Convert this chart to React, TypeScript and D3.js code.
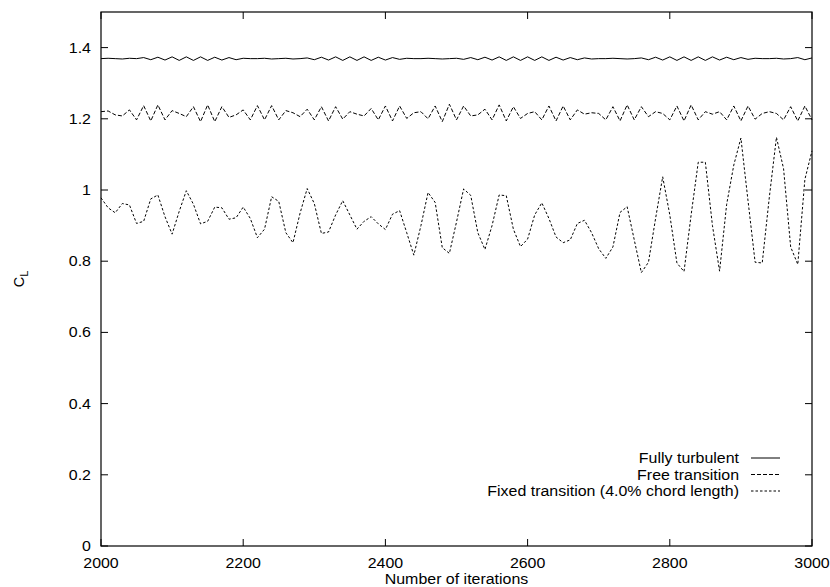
import React from 'react';
import * as d3 from 'd3';

const iterations = d3.range(2000, 3001, 10);

const fullyTurbulent = [
  1.369, 1.370, 1.369, 1.368, 1.370, 1.369,
  1.372, 1.366, 1.373, 1.365, 1.374, 1.364, 1.374, 1.364, 1.374, 1.364, 1.373, 1.365, 1.372, 1.366, 1.370,
  1.369, 1.369, 1.370, 1.368, 1.369, 1.370, 1.368, 1.369,
  1.371, 1.366, 1.373, 1.365, 1.374, 1.364, 1.374, 1.364, 1.374, 1.364, 1.373, 1.365, 1.372, 1.367, 1.370,
  1.369, 1.369, 1.370, 1.369, 1.368, 1.369, 1.370,
  1.367, 1.372, 1.366, 1.373, 1.365, 1.374, 1.364, 1.374, 1.364, 1.374, 1.364, 1.374, 1.364, 1.373, 1.365, 1.372, 1.366, 1.371, 1.368,
  1.369, 1.369, 1.370, 1.369, 1.368, 1.369,
  1.371, 1.366, 1.373, 1.365, 1.374, 1.364, 1.374, 1.364, 1.374, 1.364, 1.374, 1.365, 1.373, 1.366, 1.372, 1.367, 1.370,
  1.369, 1.369, 1.370, 1.368, 1.369,
  1.372, 1.366, 1.371,
];

const freeTransition = [
  1.220, 1.222, 1.211, 1.208, 1.225, 1.197, 1.237, 1.194, 1.239, 1.197,
  1.223, 1.215, 1.206, 1.234, 1.192, 1.239, 1.192, 1.234, 1.204, 1.211,
  1.225, 1.197, 1.237, 1.197, 1.237, 1.197, 1.223, 1.217, 1.206, 1.227,
  1.197, 1.234, 1.194, 1.234, 1.199, 1.220, 1.213, 1.208, 1.229, 1.197,
  1.236, 1.194, 1.236, 1.201, 1.217, 1.220, 1.200, 1.236, 1.192, 1.241,
  1.197, 1.236, 1.208, 1.211, 1.227, 1.197, 1.239, 1.194, 1.234, 1.201,
  1.215, 1.220, 1.197, 1.236, 1.194, 1.236, 1.197, 1.225, 1.213, 1.217,
  1.215, 1.197, 1.234, 1.194, 1.239, 1.197, 1.234, 1.206, 1.220, 1.215,
  1.197, 1.236, 1.194, 1.239, 1.197, 1.220, 1.213, 1.220, 1.197, 1.236,
  1.194, 1.236, 1.199, 1.215, 1.220, 1.215, 1.197, 1.234, 1.194, 1.236,
  1.197,
];

const fixedTransition = [
  0.978, 0.950, 0.936, 0.962, 0.958, 0.906, 0.912, 0.975, 0.986, 0.925,
  0.876, 0.940, 0.998, 0.960, 0.905, 0.912, 0.952, 0.950, 0.918, 0.922,
  0.952, 0.920, 0.866, 0.890, 0.981, 0.968, 0.880, 0.852, 0.935, 1.004,
  0.962, 0.878, 0.882, 0.930, 0.970, 0.930, 0.890, 0.912, 0.925, 0.905,
  0.889, 0.932, 0.942, 0.880, 0.817, 0.900, 0.993, 0.965, 0.838, 0.822,
  0.910, 1.003, 0.985, 0.880, 0.833, 0.900, 0.986, 0.984, 0.890, 0.841,
  0.862, 0.930, 0.964, 0.920, 0.868, 0.852, 0.860, 0.906, 0.915, 0.880,
  0.835, 0.808, 0.840, 0.937, 0.953, 0.860, 0.768, 0.797, 0.920, 1.037,
  0.930, 0.795, 0.771, 0.930, 1.078, 1.078, 0.900, 0.772, 0.960, 1.070,
  1.146, 0.970, 0.797, 0.795, 0.980, 1.148, 1.060, 0.840, 0.791, 1.030,
  1.110,
];

const seriesNames = ['Fully turbulent', 'Free transition', 'Fixed transition (4.0% chord length)'];
const seriesDash = ['none', '4,2', '2.5,2'];
const xTicks = [2000, 2200, 2400, 2600, 2800, 3000];
const yTicks = [0, 0.2, 0.4, 0.6, 0.8, 1, 1.2, 1.4];
const xTitle = 'Number of iterations';

const W = 830;
const H = 587;
const M = { left: 101, right: 812, top: 12, bottom: 546 };
const FONT = "'Liberation Sans', Arial, Helvetica, sans-serif";
const FS = 14.5;
const SX = 1.1;

function Label({ x, y, anchor, children }: { x: number; y: number; anchor: string; children: React.ReactNode }) {
  return (
    <text
      transform={`translate(${x},${y}) scale(${SX},1)`}
      dy="0.35em"
      textAnchor={anchor}
      fontSize={FS}
      fill="#000"
    >
      {children}
    </text>
  );
}

export default function App() {
  const x = d3.scaleLinear().domain([2000, 3000]).range([M.left, M.right]);
  const y = d3.scaleLinear().domain([0, 1.5]).range([M.bottom, M.top]);
  const allSeries = [fullyTurbulent, freeTransition, fixedTransition];
  const line = d3
    .line<number>()
    .x((_, i) => x(iterations[i]))
    .y((d) => y(d));
  const tickLen = 7;

  return (
    <svg
      width={W}
      height={H}
      style={{ position: 'absolute', left: 0, top: 0, background: '#fff' }}
      fontFamily={FONT}
    >
      <rect x={0} y={0} width={W} height={H} fill="#fff" />
      {yTicks.map((t) => (
        <g key={'y' + t}>
          <line x1={M.left} x2={M.left + tickLen} y1={y(t)} y2={y(t)} stroke="#000" />
          <line x1={M.right} x2={M.right - tickLen} y1={y(t)} y2={y(t)} stroke="#000" />
          <Label x={M.left - 10} y={y(t)} anchor="end">
            {d3.format('~g')(t)}
          </Label>
        </g>
      ))}
      {xTicks.map((t) => (
        <g key={'x' + t}>
          <line x1={x(t)} x2={x(t)} y1={M.bottom} y2={M.bottom - tickLen} stroke="#000" />
          <line x1={x(t)} x2={x(t)} y1={M.top} y2={M.top + tickLen} stroke="#000" />
          <Label x={x(t)} y={M.bottom + 17} anchor="middle">
            {t}
          </Label>
        </g>
      ))}
      {allSeries.map((s, i) => (
        <path
          key={'s' + i}
          d={line(s) || ''}
          fill="none"
          stroke="#000"
          strokeWidth={1}
          strokeDasharray={seriesDash[i]}
        />
      ))}
      <rect
        x={M.left}
        y={M.top}
        width={M.right - M.left}
        height={M.bottom - M.top}
        fill="none"
        stroke="#000"
        strokeWidth={1.2}
      />
      {seriesNames.map((n, i) => {
        const ly = 458 + i * 16.5;
        return (
          <g key={'l' + i}>
            <Label x={739} y={ly} anchor="end">
              {n}
            </Label>
            <line x1={751} x2={780} y1={ly} y2={ly} stroke="#000" strokeDasharray={seriesDash[i]} />
          </g>
        );
      })}
      <Label x={(M.left + M.right) / 2} y={579} anchor="middle">
        {xTitle}
      </Label>
      <text transform="translate(24,279) rotate(-90)" textAnchor="middle" fontSize={FS} fill="#000">
        C<tspan fontSize={11} dy={4}>L</tspan>
      </text>
    </svg>
  );
}
